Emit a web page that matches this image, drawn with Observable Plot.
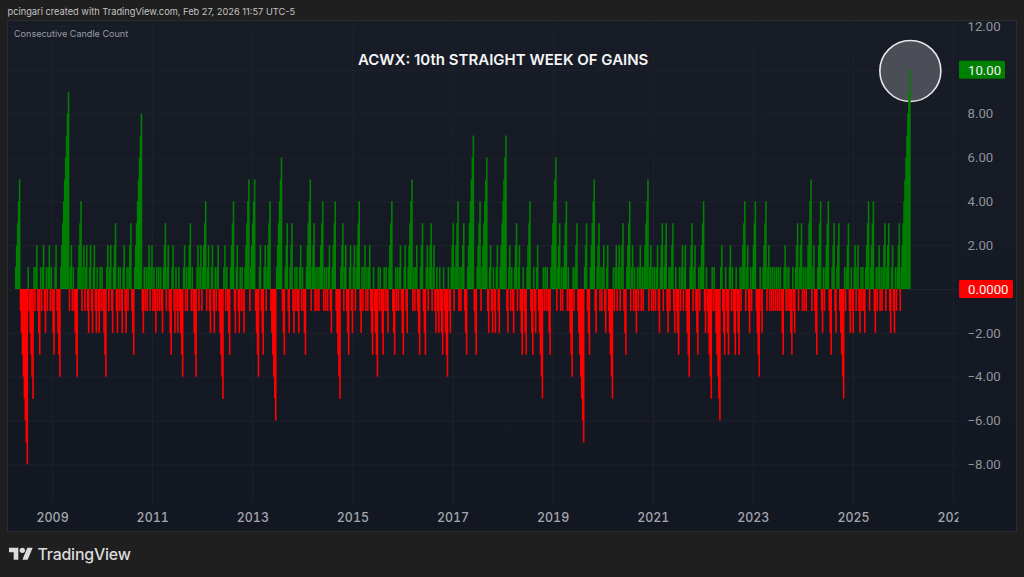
<!DOCTYPE html>
<html><head><meta charset="utf-8">
<script src="https://cdn.jsdelivr.net/npm/d3@7"></script>
<script src="https://cdn.jsdelivr.net/npm/@observablehq/plot@0.6"></script>
<style>
html,body{margin:0;padding:0;background:#1f1f1f;width:1024px;height:577px;overflow:hidden;font-family:Inter,sans-serif}
#pane{position:absolute;left:7px;top:20px;width:1008px;height:510px;border:1px solid #2a2b2d;background:linear-gradient(#181c27,#131722)}
#chart{position:absolute;left:0;top:0}
#chart svg{background:transparent;display:block}
.lbl{position:absolute;white-space:nowrap}
</style></head><body>
<div id="pane"></div>
<div id="chart"></div>
<div class="lbl" style="left:7.5px;top:6px;font-size:9.25px;color:#c4c4c4">pcingari created with TradingView.com, Feb 27, 2026 11:57 UTC-5</div>
<div class="lbl" style="left:14px;top:27.5px;font-size:9.05px;color:#9a9ca4">Consecutive Candle Count</div>
<div class="lbl" style="left:358px;top:49.5px;font-size:15px;font-weight:600;color:#f4f4f4">ACWX: 10th STRAIGHT WEEK OF GAINS</div>
<svg style="position:absolute;left:9px;top:545.4px" width="24" height="18.7" viewBox="0 0 36 28"><path fill="#dcdcdc" d="M14 22H7V11H0V4h14v18zM28 22h-8l7.5-18h8L28 22z"/><circle fill="#dcdcdc" cx="20" cy="8" r="4"/></svg>
<div class="lbl" style="left:37.5px;top:544.5px;font-size:15.9px;font-weight:500;color:#dcdcdc;letter-spacing:-.2px">TradingView</div>
<script>
// Signed lengths of consecutive weekly up (+) and down (-) runs.
const runs2008 = [5,-8,1,-5,1,-1,2,-3,1,-1,2,-2,1,-1,2,-1,1,-3,2,-4,9,-1,2,-1,1,-4,4,-1,2,-1,2,-2,2,-2,2,-2,1,-2,1,-1,1,-4,2,-1,2,-2,3,-2,1,-1,1,-2,2,-2,1,-1,3,-3,8,-2,1,-1,1,-1,2,-1,2,-1,1,-2,1,-1,1,-1,1,-2,3,-1,2,-3,2,-2,1,-2,1,-4,2,-1,1,-1,3,-1,1,-4,2,-1,2,-1,4,-1,2,-2,2,-2,1,-1,2,-5,2,-1,1,-3,4,-2,2,-2,1,-1,1,-2,5,-1,5,-4];
const runs2013 = [2,-3,2,-1,4,-6,6,-3,3,-2,3,-2,1,-1,1,-2,2,-1,1,-3,5,-1,3,-1,1,-1,1,-1,4,-1,1,-1,1,-1,2,-2,4,-5,3,-1,2,-3,2,-2,2,-1,4,-2,1,-1,2,-1,1,-1,2,-3,1,-4,1,-1,1,-3,1,-1,1,-2,4,-3,1,-1,1,-1,2,-3,2,-2,5,-1,1,-1,2,-3,3,-3,2,-1,3,-1,2,-2,1,-2,1,-3,1,-4,1,-2,3,-1,4,-1,1,-1,3,-3,7,-3,4,-1,6,-2,2,-2,1,-2,2,-2,7,-2,2,-1,1,-2,3];
const runs2018 = [-1,2,-3,1,-3,4,-3,1,-2,2,-5,1,-1,1,-1,1,-3,6,-1,3,-1,1,-1,4,-1,1,-4,1,-1,3,-7,3,-3,5,-2,3,-1,1,-1,2,-2,2,-5,1,-1,2,-1,2,-1,3,-3,4,-1,2,-1,1,-2,1,-1,2,-1,1,-1,5,-1,2,-1,1,-1,1,-1,2,-2,3,-1,3,-2,1,-1,3,-2,1,-3,1,-1,2,-1,2,-4,3,-1,2,-3,1,-1,4,-2,1,-5,1,-1,1,-6,2,-3,1,-3,2,-1,1,-3,1,-3,1,-1,4,-1,2,-2,1,-1,4,-4,1,-2,4,-1,2];
const runs2023 = [-1,1,-1,1,-1,1,-1,1,-1,1,-1,1,-3,2,-1,1,-1,1,-3,1,-2,3,-1,3,-1,1,-1,1,-1,5,-1,2,-3,4,-2,1,-1,4,-3,3,-2,3,-5,1,-1,3,-2,1,-2,2,-1,2,-2,1,-1,1,-2,4,-1,4,-2,1,-1,2,-1,1,-1,3,-1,3,-2,2,-2,1,-1,3,-1,10];
const weeklyRuns = [...runs2008, ...runs2013, ...runs2018, ...runs2023];
const firstWeek = new Date(Date.UTC(2008, 3, 7));
const yearTicks = [2009,2011,2013,2015,2017,2019,2021,2023,2025,2027];
const priceTicks = [12,8,6,4,2,-2,-4,-6,-8];
const gridLevels = [12,10,8,6,4,2,0,-2,-4,-6,-8];
const lastValue = 10, zeroValue = 0;

const GREEN = "#008000", RED = "#ff0000", GRID = "#1e222d", MUTED = "#8f929b";
const weeks = [];
for (const run of weeklyRuns) {
  for (let i = 1; i <= Math.abs(run); i++) {
    weeks.push({date: d3.utcWeek.offset(firstWeek, weeks.length), value: Math.sign(run) * i});
  }
}
const yearDates = yearTicks.map(y => new Date(Date.UTC(y, 0, 1)));
const last = weeks[weeks.length - 1];

function priceBadge(value, text, fill, width) {
  return (index, {y}, values, dims) => {
    const g = d3.create("svg:g");
    const x0 = dims.width - dims.marginRight + 1;
    g.append("rect").attr("x", x0).attr("y", y(value) - 9).attr("width", width).attr("height", 18).attr("rx", 1.5).attr("fill", fill);
    g.append("text").attr("x", x0 + 9).attr("y", y(value)).attr("dy", "0.36em").attr("fill", "#f2f2f2")
      .attr("text-anchor", "start").attr("font-family", "Roboto").attr("font-size", 13.2).text(text);
    return g.node();
  };
}

const chart = Plot.plot({
  width: 1024, height: 577,
  marginLeft: 8, marginRight: 66, marginTop: 20, marginBottom: 74,
  x: {type: "utc", domain: [new Date(Date.UTC(2008,1,14)), new Date(Date.UTC(2027,1,6))]},
  y: {domain: [-9.76, 12.27]},
  style: {background: "transparent"},
  marks: [
    Plot.gridX(yearDates, {stroke: GRID, strokeOpacity: 1}),
    Plot.gridY(gridLevels, {stroke: GRID, strokeOpacity: 1}),
    Plot.dot([last], {x: "date", y: "value", r: 30.5, dy: 0.7, dx: 0.5, fill: "#4b4e57", stroke: "#e6e6e6", strokeWidth: 1.6}),
    Plot.ruleX(weeks.filter(d => d.value > 0), {x: "date", y1: 0, y2: "value", stroke: GREEN, strokeWidth: 1.6}),
    Plot.ruleX(weeks.filter(d => d.value < 0), {x: "date", y1: 0, y2: "value", stroke: RED, strokeWidth: 1.6}),
    Plot.axisX(yearDates, {className: "xaxis", anchor: "bottom", label: null, tickSize: 0, tickPadding: 10,
      tickFormat: d3.utcFormat("%Y"), fill: "#a3a6ae", fontSize: 12.4, fontWeight: 500, fontFamily: "Inter"}),
    Plot.axisY(priceTicks, {anchor: "right", label: null, tickSize: 0, tickPadding: 9,
      tickFormat: d => d3.format(".2f")(d).replace("-", "\u2212"), fill: MUTED, fontSize: 13.2, fontFamily: "Roboto"}),
    priceBadge(lastValue, "10.00", GREEN, 46),
    priceBadge(zeroValue, "0.0000", RED, 54)
  ]
});
document.getElementById("chart").append(chart);
// The last year label runs off the time axis, as in the reference.
const ns = "http://www.w3.org/2000/svg";
const clip = document.createElementNS(ns, "clipPath"); clip.id = "xclip";
const r = document.createElementNS(ns, "rect");
r.setAttribute("x", 0); r.setAttribute("y", 0); r.setAttribute("width", 958); r.setAttribute("height", 577);
clip.append(r); chart.append(clip);
const xa = chart.querySelector("g.xaxis") || chart.querySelector('[aria-label="x-axis tick label"]');
if (xa) xa.setAttribute("clip-path", "url(#xclip)");
</script>
</body></html>
